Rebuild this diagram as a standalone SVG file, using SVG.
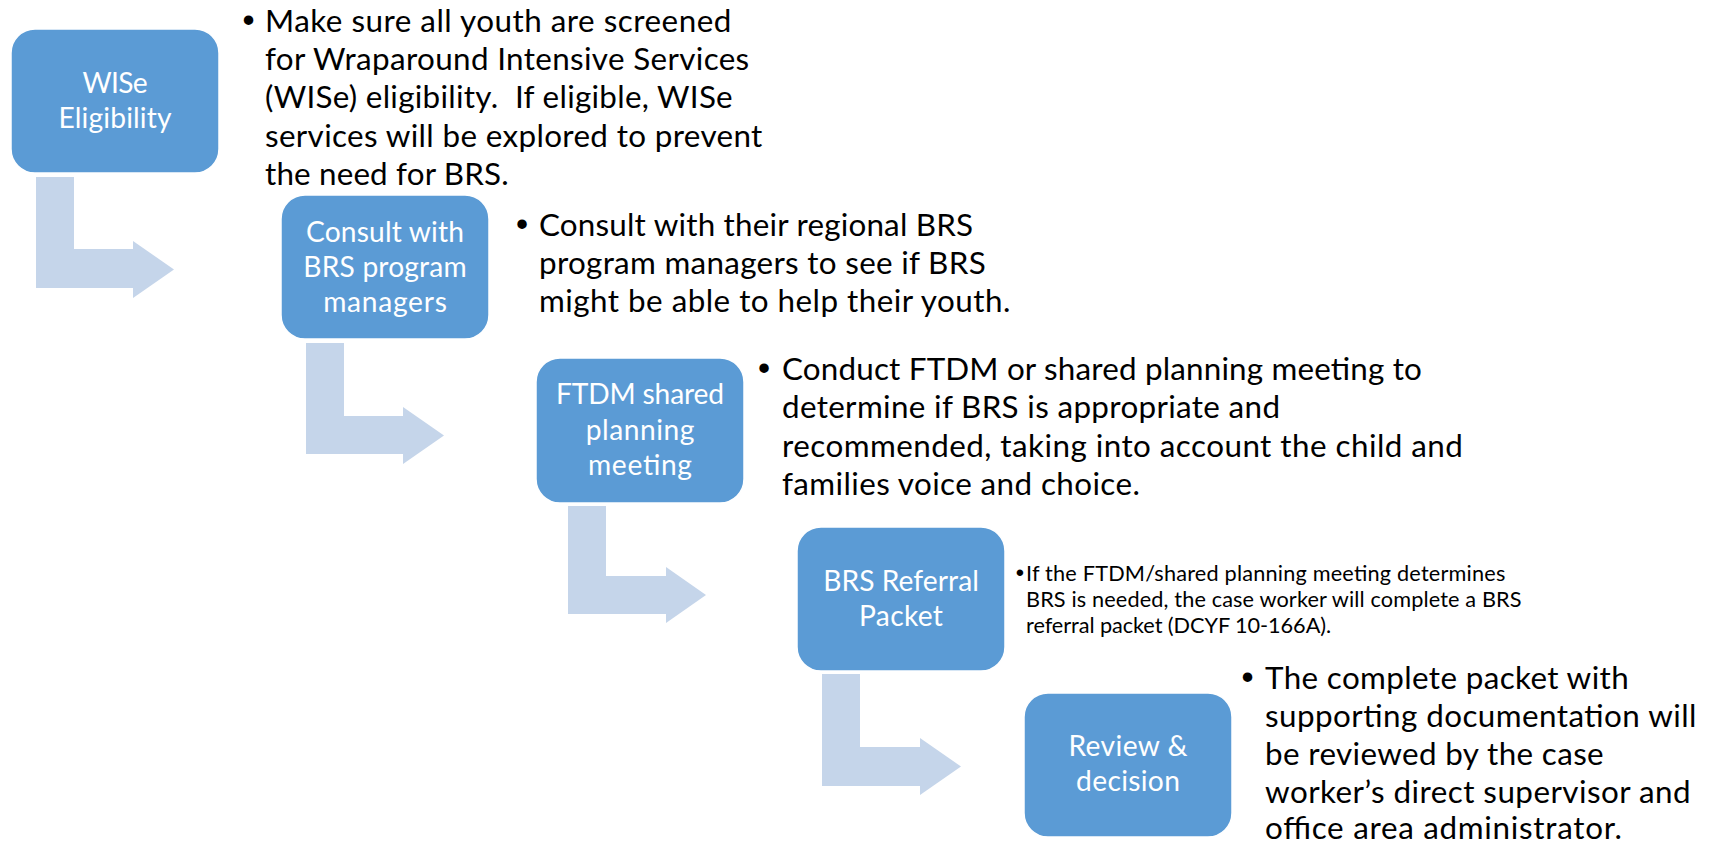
<svg xmlns="http://www.w3.org/2000/svg" width="1709" height="844" viewBox="0 0 1709 844">
<style>
.box{fill:#5B9BD5;stroke:#ffffff;stroke-width:1.5}
.arrow{fill:#C5D5EA}
.bt{font-family:Lato,"Liberation Sans",sans-serif;font-size:28.2px;fill:#ffffff;text-anchor:middle}
.tx{font-family:Lato,"Liberation Sans",sans-serif;font-size:31.4px;fill:#000000;white-space:pre}
.tx4{font-family:Lato,"Liberation Sans",sans-serif;font-size:21.7px;fill:#000000}
.bul{font-family:"Liberation Sans",Arial,sans-serif;font-size:34.5px;fill:#000000;text-anchor:middle}
.bul4{font-family:"Liberation Sans",Arial,sans-serif;font-size:23.8px;fill:#000000;text-anchor:middle}
</style>
<rect width="1709" height="844" fill="#ffffff"/>
<g id="connectors">
<path class="arrow" d="M36,177 H74 V249 H133 V241 L174,269.5 L133,298 V288 H36 Z"/>
<path class="arrow" d="M306,343 H344 V416 H403 V407 L444,435.5 L403,464 V454 H306 Z"/>
<path class="arrow" d="M568,506 H606 V576 H666 V567 L706,595 L666,623 V614 H568 Z"/>
<path class="arrow" d="M822,674 H860 V747 H920 V738 L961,766.5 L920,795 V786 H822 Z"/>
</g>
<g id="node-wise">
<rect class="box" x="11" y="29" width="208" height="144" rx="24"/>
<text class="bt" x="115" y="93" textLength="65.1">WISe</text>
<text class="bt" x="115" y="128" textLength="113">Eligibility</text>
<text class="bul" x="248.5" y="32">•</text>
<text class="tx" x="265" y="32" textLength="466.3">Make sure all youth are screened</text>
<text class="tx" x="265" y="70" textLength="484.2">for Wraparound Intensive Services</text>
<text class="tx" x="265" y="108" textLength="467.7">(WISe) eligibility.  If eligible, WISe</text>
<text class="tx" x="265" y="146.5" textLength="497.3">services will be explored to prevent</text>
<text class="tx" x="265" y="184.5" textLength="243.6">the need for BRS.</text>
</g>
<g id="node-consult">
<rect class="box" x="281" y="195" width="208" height="144" rx="24"/>
<text class="bt" x="385" y="242" textLength="157.9">Consult with</text>
<text class="bt" x="385" y="277" textLength="163.4">BRS program</text>
<text class="bt" x="385" y="312" textLength="123.7">managers</text>
<text class="bul" x="522" y="236">•</text>
<text class="tx" x="539" y="236" textLength="434.1">Consult with their regional BRS</text>
<text class="tx" x="539" y="274" textLength="446.7">program managers to see if BRS</text>
<text class="tx" x="539" y="312" textLength="471.3">might be able to help their youth.</text>
</g>
<g id="node-ftdm">
<rect class="box" x="536" y="358" width="208" height="145" rx="24"/>
<text class="bt" x="640" y="404" textLength="168.1">FTDM shared</text>
<text class="bt" x="640" y="439.5" textLength="108.7">planning</text>
<text class="bt" x="640" y="475" textLength="104">meeting</text>
<text class="bul" x="764" y="380">•</text>
<text class="tx" x="782" y="380" textLength="639.9">Conduct FTDM or shared planning meeting to</text>
<text class="tx" x="782" y="418" textLength="498">determine if BRS is appropriate and</text>
<text class="tx" x="782" y="456.5" textLength="680.9">recommended, taking into account the child and</text>
<text class="tx" x="782" y="494.5" textLength="357.8">families voice and choice.</text>
</g>
<g id="node-referral">
<rect class="box" x="797" y="527" width="208" height="144" rx="24"/>
<text class="bt" x="901" y="591" textLength="155.7">BRS Referral</text>
<text class="bt" x="901" y="626" textLength="83.9">Packet</text>
<text class="bul4" x="1020" y="580.5">•</text>
<text class="tx4" x="1026" y="580.5" textLength="479.3">If the FTDM/shared planning meeting determines</text>
<text class="tx4" x="1026" y="607" textLength="495.6">BRS is needed, the case worker will complete a BRS</text>
<text class="tx4" x="1026" y="633.4" textLength="305.1">referral packet (DCYF 10-166A).</text>
</g>
<g id="node-review">
<rect class="box" x="1024" y="693" width="208" height="144" rx="24"/>
<text class="bt" x="1128" y="756" textLength="119.1">Review &amp;</text>
<text class="bt" x="1128" y="791" textLength="103.8">decision</text>
<text class="bul" x="1247.5" y="688.5">•</text>
<text class="tx" x="1265" y="688.5" textLength="363.7">The complete packet with</text>
<text class="tx" x="1265" y="726.5" textLength="431.5">supporting documentation will</text>
<text class="tx" x="1265" y="764.5" textLength="338.7">be reviewed by the case</text>
<text class="tx" x="1265" y="802.5" textLength="425.6">worker’s direct supervisor and</text>
<text class="tx" x="1265" y="838.5" textLength="357">office area administrator.</text>
</g>
</svg>
